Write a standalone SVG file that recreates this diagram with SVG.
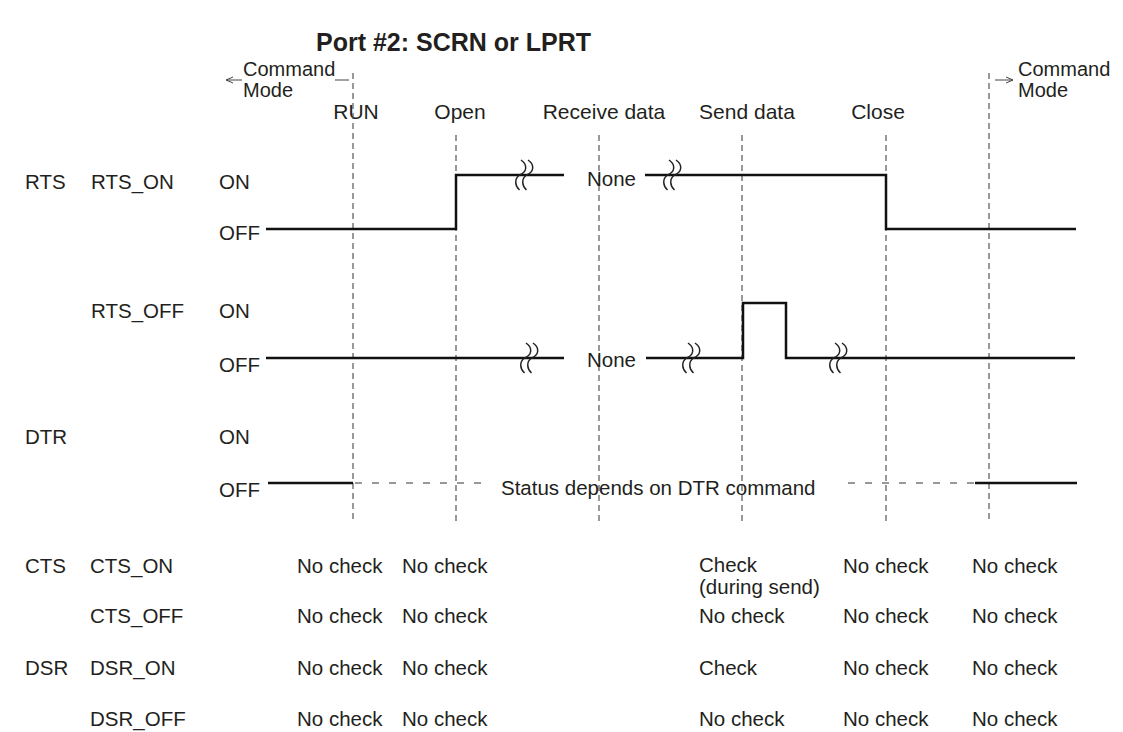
<svg xmlns="http://www.w3.org/2000/svg" width="1123" height="732" viewBox="0 0 1123 732">
<defs>
<style>
text{font-family:"Liberation Sans",Arial,sans-serif;font-size:20.5px;fill:#231f20}
.title{font-weight:bold;font-size:25px}
.h{font-size:21px}
.cm{font-size:20px}
.c{text-anchor:middle}
.vd{stroke:#555;stroke-width:1.2;stroke-dasharray:6,4;fill:none}
.hd{stroke:#333;stroke-width:1.2;stroke-dasharray:7,10;fill:none}
.sig{stroke:#111;stroke-width:2.5;fill:none;stroke-linejoin:miter}
.brk{stroke:#222;stroke-width:1.5;fill:none}
.thin{stroke:#444;stroke-width:1;fill:none}
</style>
<marker id="ah" viewBox="0 0 8 8" refX="7" refY="4" markerWidth="8" markerHeight="8" orient="auto" markerUnits="userSpaceOnUse">
<path d="M0,1 L7,4 L0,7" fill="none" stroke="#444" stroke-width="1"/>
</marker>
<g id="squig">
<path d="M-2,-15 C5,-10 4,-3 -3.5,0 C-9,4 -8,11 -3.5,15"/>
<path d="M5,-15 C12,-10 11,-3 3.5,0 C-2,4 -1,11 3.5,15"/>
</g>
</defs>
<rect width="1123" height="732" fill="#fff"/>

<text id="title" class="title" x="316" y="51">Port #2: SCRN or LPRT</text>

<g id="header">
<line class="thin" x1="242" y1="80" x2="226" y2="80" marker-end="url(#ah)"/>
<line class="thin" x1="335" y1="80" x2="349" y2="80"/>
<text class="cm" x="243" y="76">Command</text>
<text class="cm" x="243" y="97">Mode</text>
<line class="thin" x1="995" y1="80" x2="1013" y2="80" marker-end="url(#ah)"/>
<text class="cm" x="1018" y="76">Command</text>
<text class="cm" x="1018" y="97">Mode</text>
<text class="h c" x="356" y="119">RUN</text>
<text class="h c" x="460" y="119">Open</text>
<text class="h c" x="604" y="119">Receive data</text>
<text class="h c" x="747" y="119">Send data</text>
<text class="h c" x="878" y="119">Close</text>
</g>

<g id="guides">
<line class="vd" x1="353" y1="73" x2="353" y2="523"/>
<line class="vd" x1="456" y1="135" x2="456" y2="523"/>
<line class="vd" x1="599" y1="135" x2="599" y2="523"/>
<line class="vd" x1="742" y1="135" x2="742" y2="523"/>
<line class="vd" x1="886" y1="135" x2="886" y2="523"/>
<line class="vd" x1="989" y1="73" x2="989" y2="523"/>
</g>

<g id="labels">
<text x="25" y="189">RTS</text>
<text x="91" y="189">RTS_ON</text>
<text x="219" y="189">ON</text>
<text x="219" y="240">OFF</text>
<text x="91" y="318">RTS_OFF</text>
<text x="219" y="318">ON</text>
<text x="219" y="372">OFF</text>
<text x="25" y="444">DTR</text>
<text x="219" y="444">ON</text>
<text x="219" y="497">OFF</text>
</g>

<g id="rts_on">
<polyline class="sig" points="266,229 456,229 456,175 564,175"/>
<polyline class="sig" points="645,175 886,175 886,229 1076,229"/>
<use href="#squig" class="brk" x="523" y="175"/>
<use href="#squig" class="brk" x="671" y="175"/>
<text x="587" y="186">None</text>
</g>

<g id="rts_off">
<polyline class="sig" points="266,358 564,358"/>
<polyline class="sig" points="646,358 743,358 743,303 786,303 786,358 1075,358"/>
<use href="#squig" class="brk" x="528" y="358"/>
<use href="#squig" class="brk" x="690" y="358"/>
<use href="#squig" class="brk" x="837" y="358"/>
<text x="587" y="367">None</text>
</g>

<g id="dtr">
<line class="sig" x1="268" y1="483" x2="353" y2="483"/>
<line class="hd" x1="355" y1="483" x2="490" y2="483"/>
<text x="501" y="495">Status depends on DTR command</text>
<line class="hd" x1="848" y1="483" x2="975" y2="483"/>
<line class="sig" x1="975" y1="483" x2="1077" y2="483"/>
</g>

<g id="table">
<text x="25" y="573">CTS</text>
<text x="90" y="573">CTS_ON</text>
<text x="297" y="573">No check</text>
<text x="402" y="573">No check</text>
<text x="699" y="572">Check</text>
<text x="699" y="594">(during send)</text>
<text x="843" y="573">No check</text>
<text x="972" y="573">No check</text>

<text x="90" y="623">CTS_OFF</text>
<text x="297" y="623">No check</text>
<text x="402" y="623">No check</text>
<text x="699" y="623">No check</text>
<text x="843" y="623">No check</text>
<text x="972" y="623">No check</text>

<text x="25" y="675">DSR</text>
<text x="90" y="675">DSR_ON</text>
<text x="297" y="675">No check</text>
<text x="402" y="675">No check</text>
<text x="699" y="675">Check</text>
<text x="843" y="675">No check</text>
<text x="972" y="675">No check</text>

<text x="90" y="726">DSR_OFF</text>
<text x="297" y="726">No check</text>
<text x="402" y="726">No check</text>
<text x="699" y="726">No check</text>
<text x="843" y="726">No check</text>
<text x="972" y="726">No check</text>
</g>
</svg>
